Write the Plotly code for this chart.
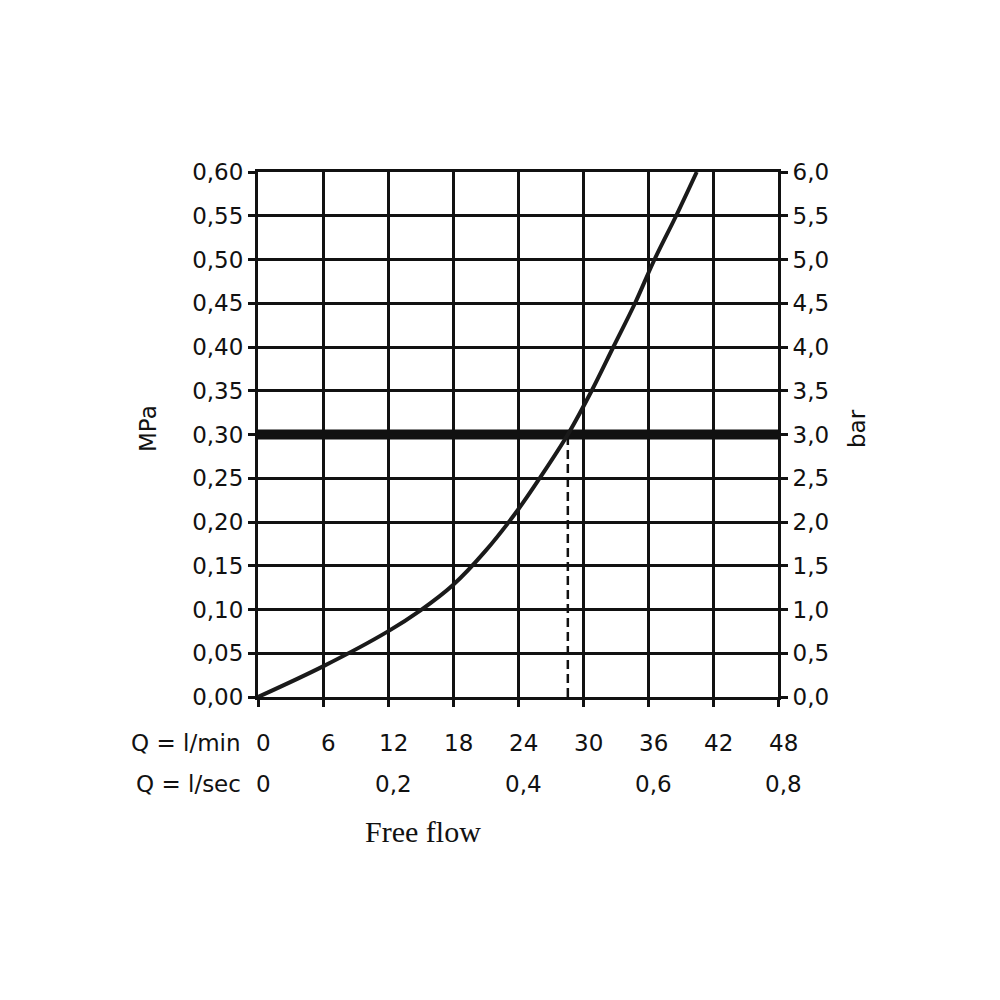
import plotly.graph_objects as go

# ---- data ----
flow_lpm = [0, 6, 12, 15, 18, 21, 24, 26.0, 28.6, 30.8, 32.8, 34.8, 36.6, 38.6, 40.5]
pressure_mpa = [0, 0.035, 0.075, 0.099, 0.128, 0.167, 0.214, 0.25, 0.30, 0.35, 0.40, 0.45, 0.50, 0.55, 0.60]

threshold_mpa = 0.30
threshold_flow = 28.6

lpm_ticks = [0, 6, 12, 18, 24, 30, 36, 42, 48]
lpm_labels = ["0", "6", "12", "18", "24", "30", "36", "42", "48"]
lps_ticks = [0, 12, 24, 36, 48]
lps_labels = ["0", "0,2", "0,4", "0,6", "0,8"]

FONT = "DejaVu Sans"
FS = 23
fig = go.Figure()

fig.add_trace(go.Scatter(x=[0, 48], y=[threshold_mpa, threshold_mpa], mode="lines",
                         line=dict(color="#111", width=10), hoverinfo="skip", showlegend=False))
fig.add_trace(go.Scatter(x=[threshold_flow, threshold_flow], y=[0, threshold_mpa], mode="lines",
                         line=dict(color="#111", width=2.5, dash="9px,5px"), hoverinfo="skip", showlegend=False))
fig.add_trace(go.Scatter(x=flow_lpm, y=pressure_mpa, mode="lines",
                         line=dict(color="#1a1a1a", width=4, shape="spline", smoothing=1.0),
                         hoverinfo="skip", showlegend=False))
# invisible trace to show the bar axis
fig.add_trace(go.Scatter(x=[0], y=[0], yaxis="y2", mode="markers", marker=dict(opacity=0),
                         hoverinfo="skip", showlegend=False))

axis_common = dict(showgrid=True, gridcolor="#111", gridwidth=2.5, zeroline=False,
                   showline=True, linecolor="#111", linewidth=3,
                   ticks="outside", ticklen=7, tickwidth=2.5, tickcolor="#111")

fig.update_layout(
    width=1000, height=1000,
    margin=dict(l=250, r=230, t=164, b=311),
    paper_bgcolor="white", plot_bgcolor="white",
    separators=",.",
    font=dict(family=FONT, size=FS, color="#111"),
    xaxis=dict(range=[0, 48], tickvals=lpm_ticks, showticklabels=False, mirror=True, **axis_common),
    yaxis=dict(range=[0, 0.6], dtick=0.05, tick0=0, tickformat=".2f", mirror=True,
               tickfont=dict(family=FONT, size=FS), **axis_common),
    yaxis2=dict(range=[0, 6], dtick=0.5, tick0=0, tickformat=".1f", overlaying="y", side="right",
                showgrid=False, zeroline=False, showline=True, linecolor="#111", linewidth=3,
                ticks="outside", ticklen=7, tickwidth=2.5, tickcolor="#111",
                tickfont=dict(family=FONT, size=FS)),
)

ann = []
for v, t in zip(lpm_ticks, lpm_labels):
    ann.append(dict(x=v, y=-0.0876, xref="x", yref="paper", text=t, showarrow=False,
                    xanchor="center", yanchor="middle", xshift=5, font=dict(family=FONT, size=FS)))
for v, t in zip(lps_ticks, lps_labels):
    ann.append(dict(x=v, y=-0.1657, xref="x", yref="paper", text=t, showarrow=False,
                    xanchor="center", yanchor="middle", xshift=5, font=dict(family=FONT, size=FS)))
ann += [
    dict(x=-0.028, y=-0.0876, xref="paper", yref="paper", text="Q = l/min", showarrow=False,
         xanchor="right", yanchor="middle", font=dict(family=FONT, size=FS)),
    dict(x=-0.028, y=-0.1657, xref="paper", yref="paper", text="Q = l/sec", showarrow=False,
         xanchor="right", yanchor="middle", font=dict(family=FONT, size=FS)),
    dict(x=0.317, y=-0.257, xref="paper", yref="paper", text="Free flow", showarrow=False,
         xanchor="center", yanchor="middle", font=dict(family="Liberation Serif", size=30)),
    dict(x=-0.2115, y=0.5105, xref="paper", yref="paper", text="MPa", showarrow=False, textangle=-90,
         xanchor="center", yanchor="middle", font=dict(family=FONT, size=FS)),
    dict(x=1.152, y=0.5105, xref="paper", yref="paper", text="bar", showarrow=False, textangle=-90,
         xanchor="center", yanchor="middle", font=dict(family=FONT, size=FS)),
]
fig.update_layout(annotations=ann)

fig.write_html("out.html")
